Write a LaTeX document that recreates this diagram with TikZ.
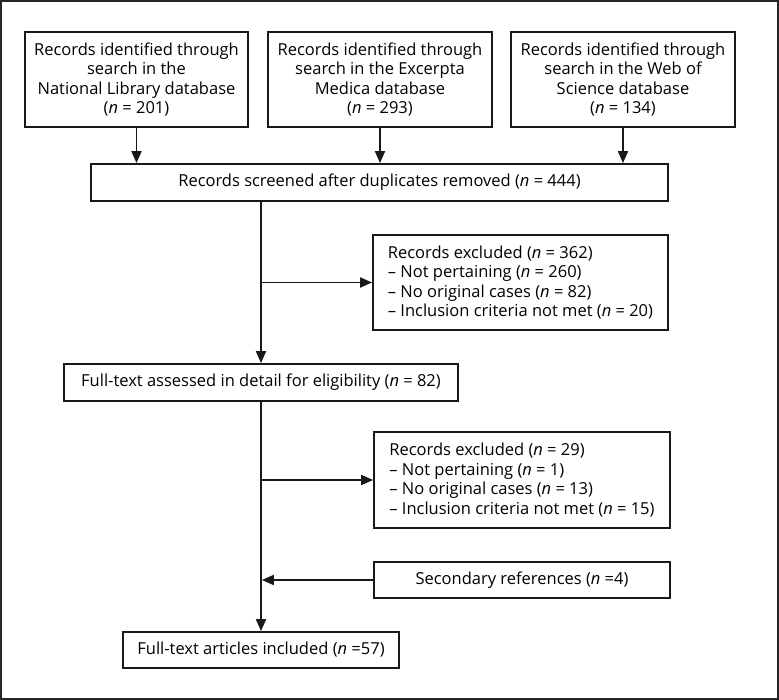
\documentclass[tikz,border=0pt]{standalone}
\usepackage{fontspec}
\setmainfont{Open Sans}
\usetikzlibrary{arrows.meta}
\newcommand{\nn}{\textit{n}}
\begin{document}
\begin{tikzpicture}[x=1pt,y=-1pt,
  box/.style={draw=black!90, line width=1.8pt, inner sep=0pt, align=center,
    font=\fontsize{16.5}{19.5}\selectfont},
  lbox/.style={box, align=left},
  arr/.style={line width=1.8pt, draw=black!90, -{Triangle[length=12pt,width=10pt]}}]
\useasboundingbox (0,0) rectangle (779,700);
\draw[line width=1.8pt, draw=black!85] (1,1) rectangle (778,699);

\node[box, minimum width=223pt, minimum height=95pt] (b1) at (136.5,79.5)
  {Records identified through\\search in the\\National Library database\\(\nn{} = 201)};
\node[box, minimum width=224pt, minimum height=95pt] (b2) at (380,79.5)
  {Records identified through\\search in the Excerpta\\Medica database\\(\nn{} = 293)};
\node[box, minimum width=224pt, minimum height=95pt] (b3) at (623,79.5)
  {Records identified through\\search in the Web of\\Science database\\(\nn{} = 134)};

\node[box, minimum width=577pt, minimum height=37pt] (scr) at (379.5,182.5)
  {Records screened after duplicates removed (\nn{} = 444)};

\node[lbox, minimum width=295pt, minimum height=95pt] (ex1) at (520.5,282.5)
  {Records excluded (\nn{} = 362)\\\textendash{} Not pertaining (\nn{} = 260)\\\textendash{} No original cases (\nn{} = 82)\\\textendash{} Inclusion criteria not met (\nn{} = 20)};

\node[box, minimum width=394pt, minimum height=37pt] (ft) at (261,382.5)
  {Full-text assessed in detail for eligibility (\nn{} = 82)};

\node[lbox, minimum width=296pt, minimum height=96pt] (ex2) at (522,480)
  {Records excluded (\nn{} = 29)\\\textendash{} Not pertaining (\nn{} = 1)\\\textendash{} No original cases (\nn{} = 13)\\\textendash{} Inclusion criteria not met (\nn{} = 15)};

\node[box, minimum width=296pt, minimum height=36pt] (sec) at (522,580)
  {Secondary references (\nn{} =4)};

\node[box, minimum width=276pt, minimum height=36pt] (fin) at (261,650)
  {Full-text articles included (\nn{} =57)};

\draw[arr] (b1.south) -- (b1.south |- scr.north);
\draw[arr] (b2.south) -- (b2.south |- scr.north);
\draw[arr] (b3.south) -- (b3.south |- scr.north);

\draw[arr] (ft.north |- scr.south) -- (ft.north);
\draw[arr] (ft.north |- ex1.west) -- (ex1.west);

\draw[arr] (ft.south) -- (fin.north);
\draw[arr] (ft.south |- ex2.west) -- (ex2.west);
\draw[arr] (sec.west) -- ([xshift=0.9pt]ft.south |- sec.west);
\end{tikzpicture}
\end{document}
